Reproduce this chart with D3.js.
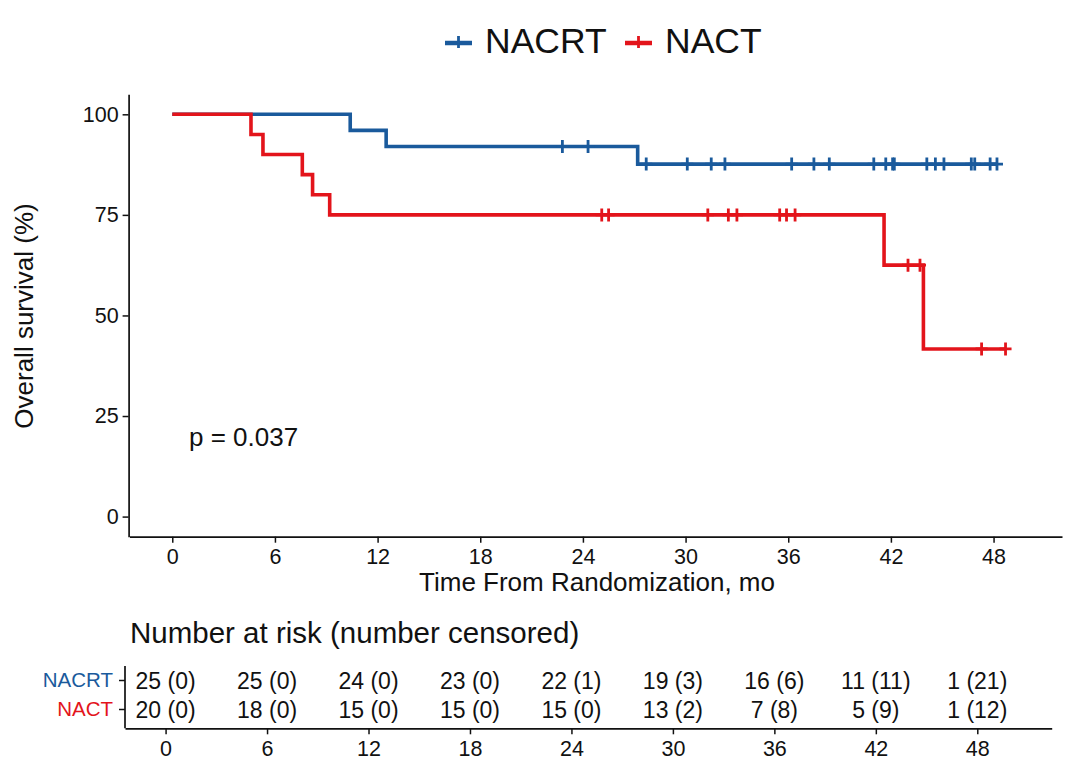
<!DOCTYPE html>
<html><head><meta charset="utf-8">
<script src="https://cdn.jsdelivr.net/npm/d3@7"></script>
<style>
body{margin:0;background:#fff}
svg{display:block}
text{font-family:"Liberation Sans",Arial,Helvetica,sans-serif}
</style>
</head><body>
<svg id="chart" width="1080" height="782"></svg>
<script>
// ---------------- data ----------------
const groups = ["NACRT", "NACT"];
const groupColors = ["#1a5a9c", "#e3141b"];
const groupN = [25, 20];
const nacrtEventTimes = [10.4, 12.5, 27.2];
const nacrtCensorTimes = [22.8, 24.3, 27.7, 30.1, 31.5, 32.3, 36.2, 37.5, 38.4, 41.0, 41.7, 42.1, 42.2, 44.1, 44.6, 44.6, 45.1, 46.7, 46.9, 46.9, 47.8, 48.2];
const nactEventTimes = [4.6, 5.3, 7.6, 8.2, 9.2, 41.6, 43.9];
const nactCensorTimes = [25.1, 25.5, 31.3, 32.5, 33.0, 33.0, 35.5, 35.9, 36.4, 43.0, 43.7, 47.3, 48.7];
const timeTicks = [0, 6, 12, 18, 24, 30, 36, 42, 48];
const survTicks = [0, 25, 50, 75, 100];
const nacrtAtRisk = [25, 25, 24, 23, 22, 19, 16, 11, 1];
const nacrtCensored = [0, 0, 0, 0, 1, 3, 6, 11, 21];
const nactAtRisk = [20, 18, 15, 15, 15, 13, 7, 5, 1];
const nactCensored = [0, 0, 0, 0, 0, 2, 8, 9, 12];
const pValueLabel = "p = 0.037";
const xTitle = "Time From Randomization, mo";
const yTitle = "Overall survival (%)";
const tableTitle = "Number at risk (number censored)";

// ---------------- Kaplan-Meier ----------------
function km(n, ev, ce) {
  const all = ev.map(t => ({t, e: 1})).concat(ce.map(t => ({t, e: 0})))
    .sort((a, b) => a.t - b.t || b.e - a.e);
  let s = 100, risk = n, i = 0;
  const steps = [{t: 0, s: 100}], cens = [];
  while (i < all.length) {
    const t = all[i].t; let d = 0, c = 0;
    while (i < all.length && all[i].t === t) { if (all[i].e) d++; else c++; i++; }
    if (d > 0) { s = s * (risk - d) / risk; steps.push({t, s}); }
    if (c > 0) cens.push({t, s});
    risk -= d + c;
  }
  steps.push({t: all[all.length - 1].t, s});
  return {steps, cens};
}
const curves = [
  km(groupN[0], nacrtEventTimes, nacrtCensorTimes),
  km(groupN[1], nactEventTimes, nactCensorTimes)
];

// ---------------- drawing ----------------
const svg = d3.select("#chart");
const ink = "#111";
const x = d3.scaleLinear().domain([-2.5, 52]).range([129.5, 1062]);
const y = d3.scaleLinear().domain([-5, 105]).range([536.7, 94.2]);

function styleAxis(g, fs) {
  g.select(".domain").attr("stroke", ink).attr("stroke-width", 1.7);
  g.selectAll(".tick line").attr("stroke", ink).attr("stroke-width", 1.5);
  g.selectAll(".tick text").attr("fill", ink).attr("font-size", fs)
    .attr("font-family", '"Liberation Sans",Arial,sans-serif');
}

// axes
const gx = svg.append("g").attr("transform", "translate(0,536.7)")
  .call(d3.axisBottom(x).tickValues(timeTicks).tickSize(6).tickSizeOuter(0).tickPadding(6));
styleAxis(gx, 21.5);
const gy = svg.append("g").attr("transform", "translate(128.6,0)")
  .call(d3.axisLeft(y).tickValues(survTicks).tickSize(6).tickSizeOuter(0).tickPadding(4));
styleAxis(gy, 21.5);

svg.append("text").attr("x", 597).attr("y", 591).attr("text-anchor", "middle")
  .attr("font-size", 26).attr("fill", ink).text(xTitle);
svg.append("text").attr("transform", "translate(33,316) rotate(-90)").attr("text-anchor", "middle")
  .attr("font-size", 26).attr("fill", ink).text(yTitle);

// curves
const line = d3.line().curve(d3.curveStepAfter).x(d => x(d.t)).y(d => y(d.s));
const cross = "M-6,0H6M0,-6.5V6.5";
curves.forEach((c, k) => {
  const g = svg.append("g");
  g.append("path").attr("d", line(c.steps)).attr("fill", "none")
    .attr("stroke", groupColors[k]).attr("stroke-width", 3.6).attr("stroke-linejoin", "miter");
  g.selectAll("path.cens").data(c.cens).join("path").attr("class", "cens")
    .attr("transform", d => `translate(${x(d.t)},${y(d.s)})`)
    .attr("d", cross).attr("stroke", groupColors[k]).attr("stroke-width", 2.8).attr("fill", "none");
});

svg.append("text").attr("x", 189).attr("y", 446).attr("font-size", 26).attr("fill", ink).text(pValueLabel);

// legend
const legendX = [445, 625];
groups.forEach((gname, k) => {
  const lx = legendX[k];
  svg.append("path").attr("d", `M${lx},43H${lx + 27}`).attr("stroke", groupColors[k]).attr("stroke-width", 4.5);
  svg.append("path").attr("transform", `translate(${lx + 13.5},42)`).attr("d", "M0,-6V6")
    .attr("stroke", groupColors[k]).attr("stroke-width", 2.8);
  svg.append("text").attr("x", lx + 40).attr("y", 53).attr("font-size", 35.5).attr("fill", ink).text(gname);
});

// risk table
svg.append("text").attr("x", 130).attr("y", 643).attr("font-size", 29.5).attr("fill", ink).text(tableTitle);
const xt = d3.scaleLinear().domain([-2.4, 52.4]).range([125, 1051.7]);
const gxt = svg.append("g").attr("transform", "translate(0,728.3)")
  .call(d3.axisBottom(xt).tickValues(timeTicks).tickSize(6).tickSizeOuter(0).tickPadding(6));
styleAxis(gxt, 21.5);
const yt = d3.scaleBand().domain(groups).range([666, 724]);
const gyt = svg.append("g").attr("transform", "translate(125,0)")
  .call(d3.axisLeft(yt).tickSize(6).tickSizeOuter(0).tickPadding(6));
styleAxis(gyt, 20.5);
gyt.select(".domain").attr("d", "M0,666V728.3");
gyt.selectAll(".tick text").attr("fill", (d, i) => groupColors[i]);

const tableRows = [
  {g: groups[0], risk: nacrtAtRisk, cens: nacrtCensored},
  {g: groups[1], risk: nactAtRisk, cens: nactCensored}
];
tableRows.forEach(r => {
  svg.append("g").selectAll("text").data(timeTicks).join("text")
    .attr("x", t => xt(t)).attr("y", yt(r.g) + yt.bandwidth() / 2).attr("dy", "0.35em")
    .attr("text-anchor", "middle").attr("font-size", 23).attr("fill", ink)
    .text((t, i) => `${r.risk[i]} (${r.cens[i]})`);
});
</script>
</body></html>
